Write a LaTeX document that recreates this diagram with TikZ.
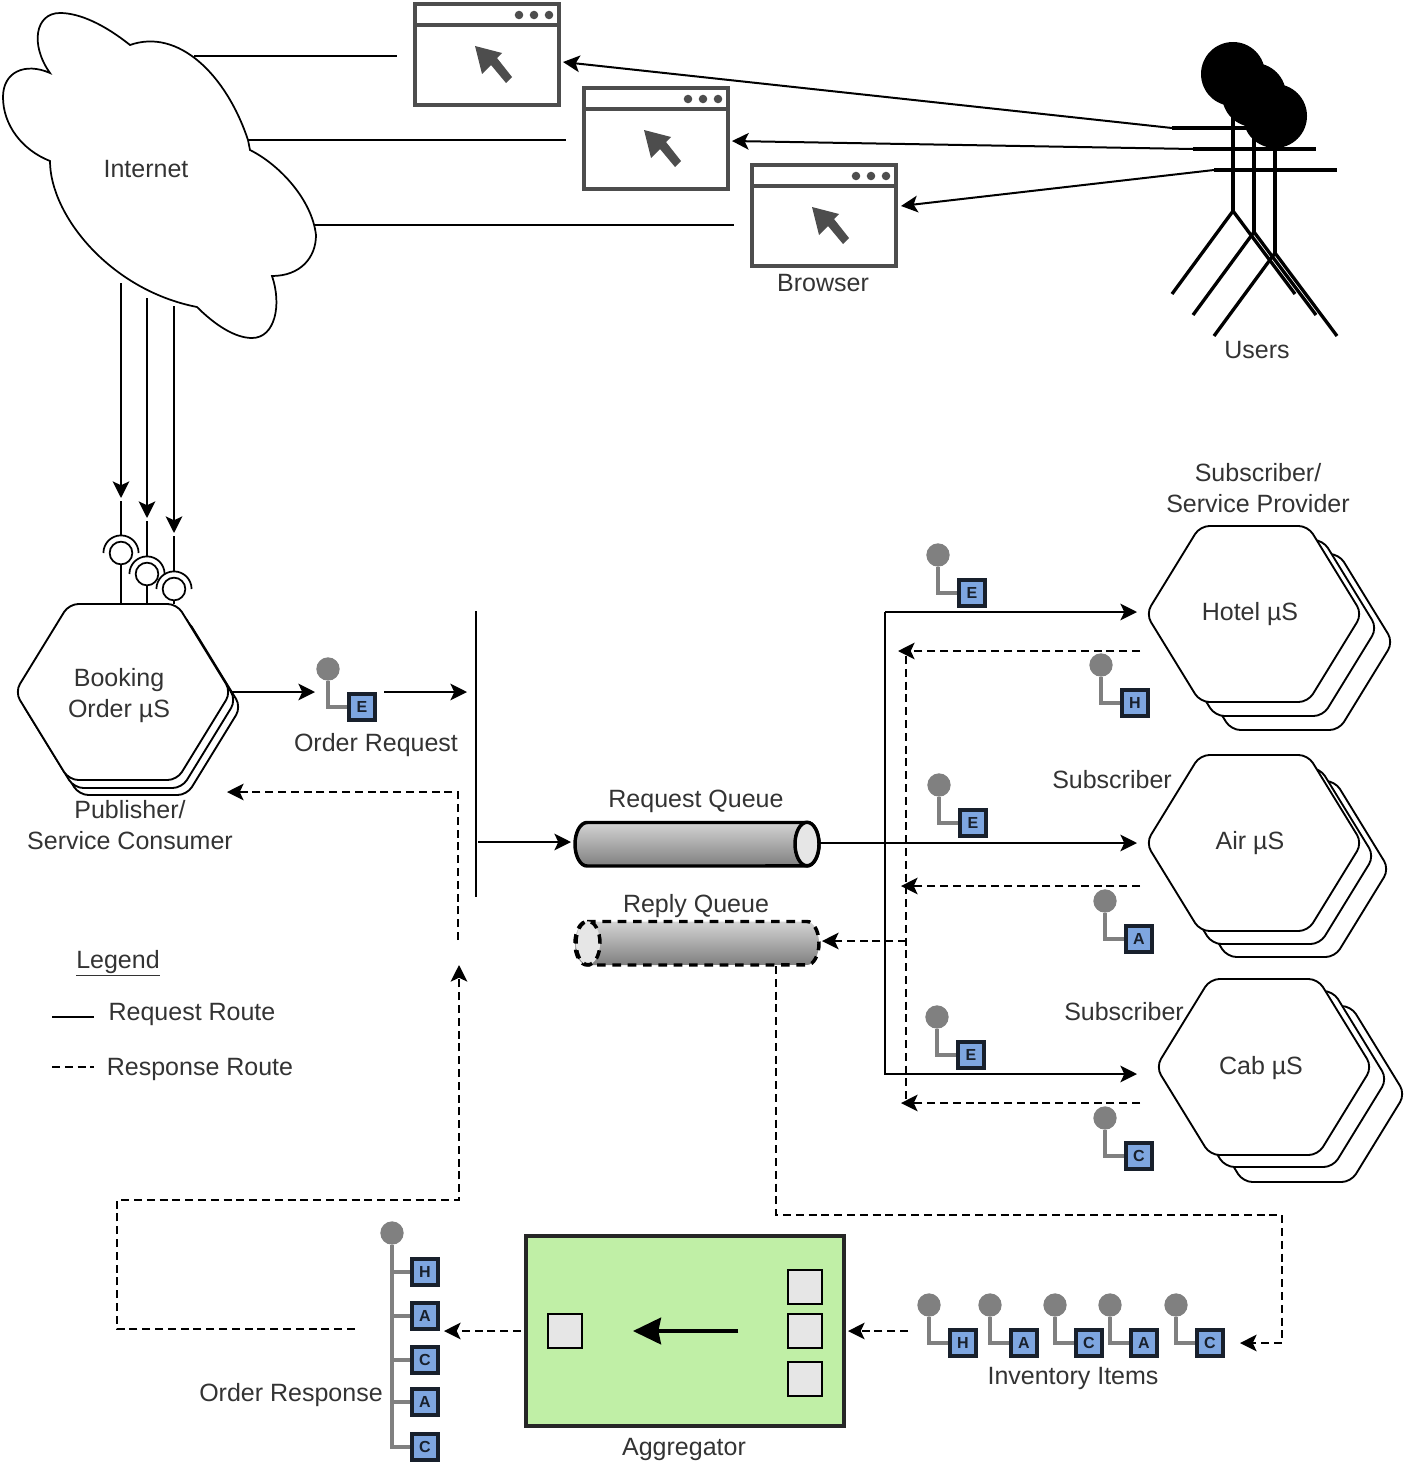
\documentclass[tikz,border=0pt]{standalone}
\usepackage{xcolor}
\usepackage{fontspec}
\setmainfont{Liberation Sans}
\usepackage{tikz}
\usetikzlibrary{shapes,arrows.meta,positioning,fit,calc}
\definecolor{txtgray}{HTML}{333333}
\definecolor{wingray}{HTML}{4D4D4D}
\definecolor{dotgray}{HTML}{808080}
\definecolor{tagblue}{HTML}{7EA6E0}
\definecolor{tagdark}{HTML}{18202C}
\definecolor{aggrgreen}{HTML}{C0EFA6}
\definecolor{boxgray}{HTML}{E6E6E6}

\begin{document}
\begin{tikzpicture}[
  x=0.75pt, y=-0.75pt,
  >={Stealth[length=12.5pt,width=12.5pt,inset=3pt]},
  font=\fontsize{18.75}{23.25}\selectfont,
  txt/.style={text=txtgray, align=center, inner sep=0pt},
  conn/.style={draw, line width=1.5pt},
  resp/.style={draw, line width=1.3pt, dash pattern=on 6pt off 3.6pt},
  hexa/.style={draw, fill=white, line width=1.4pt, rounded corners=7pt},
  hexbox/.style={rectangle, inner sep=0pt, outer sep=0pt, minimum width=160pt, minimum height=133pt},
  win/.style={rectangle, draw=wingray, line width=2.7pt, inner sep=0pt, outer sep=0pt,
              minimum width=108pt, minimum height=75.75pt},
  head/.style={circle, fill=black, inner sep=0pt, minimum size=48pt},
  limb/.style={draw, line width=2.5pt},
  sock/.style={circle, draw, fill=white, line width=1.3pt, inner sep=0pt, minimum size=17pt},
  dot/.style={circle, fill=dotgray, inner sep=0pt, minimum size=17.5pt},
  tag/.style={rectangle, draw=tagdark, fill=tagblue, line width=2.6pt, inner sep=0pt,
              minimum size=19.5pt, text=tagdark, font=\fontsize{12}{12}\selectfont\bfseries},
  stem/.style={draw=dotgray, line width=2.4pt},
  pipe/.style={rectangle, inner sep=0pt, outer sep=0pt, minimum width=184pt, minimum height=33pt},
  pipeline/.style={draw, line width=2.6pt, top color=black!17, bottom color=black!50},
  slot/.style={rectangle, draw, fill=boxgray, line width=1.4pt, inner sep=0pt, minimum size=25pt},
]
  \useasboundingbox (0,0) rectangle (1406,1463);

  % INTERNET
  \draw[line width=1.3pt] (50,73) .. controls (25,62) and (3,72) .. (3,97)
    .. controls (3,125) and (22,150) .. (50,161)
    .. controls (50,215) and (110,290) .. (197,307)
    .. controls (215,325) and (235,338) .. (252,338)
    .. controls (275,338) and (282,305) .. (272,276)
    .. controls (300,276) and (316,258) .. (316,235)
    .. controls (312,200) and (280,165) .. (250,150) -- (248,140)
    .. controls (226,74) and (178,28) .. (130,45)
    .. controls (105,25) and (80,13) .. (60,13)
    .. controls (35,13) and (30,45) .. (50,73) -- cycle;
  \node[txt] (internet) at (146,169) {Internet};
  \coordinate (cloud-a) at (194,56);
  \coordinate (cloud-b) at (248,140);
  \coordinate (cloud-c) at (315,225);

  % BROWSER
  \foreach \n/\x/\y in {a/415/4, b/584/88, c/752/165} {
    \node[win] (win-\n) at (\x+72,\y+50.5) {};
    \begin{scope}[shift={(\x,\y)}]
      \draw[wingray, line width=2.7pt] (win-\n.west|-0,21) -- (win-\n.east|-0,21);
      \foreach \d in {104,119,134} \fill[wingray] (\d,11) circle (3.2pt);
      \fill[wingray] (60,42) -- (87,49) -- (82,54) -- (97,73) -- (91,79) -- (76,61) -- (67,70) -- cycle;
    \end{scope}
  }
  \node[txt] (browser) at (823,283) {Browser};
  \coordinate (win-a-in) at (563,62);
  \coordinate (win-b-in) at (732,141);
  \coordinate (win-c-in) at (901,206);
  \coordinate (win-a-out) at (397,56);
  \coordinate (win-b-out) at (566,140);
  \coordinate (win-c-out) at (734,225);
  \draw[conn] (cloud-a) -- (win-a-out);
  \draw[conn] (cloud-b) -- (win-b-out);
  \draw[conn] (cloud-c) -- (win-c-out);

  % USERS
  \foreach \n/\x/\y in {a/1233/74, b/1254/95, c/1275/116} {
    \node[head] (user-\n) at (\x,\y) {};
    \coordinate (user-\n-hip) at (\x,\y+137);
    \coordinate (user-\n-arm) at (\x-61,\y+54);
    \draw[limb] (user-\n.center) -- (user-\n-hip);
    \draw[limb] (user-\n-arm) -- (\x+62,\y+54);
    \draw[limb] (\x-61,\y+220) -- (user-\n-hip) -- (\x+62,\y+220);
  }
  \node[txt] (users) at (1257,350) {Users};
  \draw[conn,->] (user-a-arm) -- (win-a-in);
  \draw[conn,->] (user-b-arm) -- (win-b-in);
  \draw[conn,->] (user-c-arm) -- (win-c-in);

  % MICROSERVICES
  \foreach \n/\cx/\cy/\ax/\ay/\bx/\by/\tx/\ty/\l in {
      booking/123/692/5/8/10/15/119/696/{Booking\\Order µS},
      hotel/1254/614/15/14/31/28/1250/614/{Hotel µS},
      air/1254/843/12/13/27/26/1250/843/{Air µS},
      cab/1264/1067/15/12/33/27/1261/1068/{Cab µS}} {
    \foreach \dx/\dy in {\bx/\by, \ax/\ay, 0/0}
      \draw[hexa, shift={(\cx+\dx,\cy+\dy)}] (-108,0) -- (-54,-88) -- (54,-88) -- (108,0)
        -- (54,88) -- (-54,88) -- cycle;
    \node[hexbox] (\n) at (\cx,\cy) {};
    \node[txt] (\n-t) at (\tx,\ty) {\l};
  }
  \node[txt] (pub-t) at (130,825) {Publisher/\\Service Consumer};
  \node[txt] (sub-t) at (1258,488) {Subscriber/\\Service Provider};
  \node[txt] (sub-air) at (1112,780) {Subscriber};
  \node[txt] (sub-cab) at (1124,1012) {Subscriber};

  % SOCKETS
  \foreach \n/\x/\y/\t in {a/121/553/498, b/147/574/518, c/174/589/533} {
    \node[sock] (sock-\n) at (\x,\y) {};
    \draw[line width=1.3pt] ([xshift=-13.2pt]sock-\n.center) arc (180:0:13.2pt);
    \coordinate (sock-\n-tip) at (\x,\t);
    \coordinate (sock-\n-top) at (\x,\y-18);
    \coordinate (sock-\n-in) at (\x,\t+3);
    \draw[line width=1.3pt] (sock-\n-in) -- (sock-\n-top);
    \draw[line width=1.3pt] (sock-\n) -- (\x,604);
  }
  \coordinate (cloud-d) at (121,283);
  \coordinate (cloud-e) at (147,298);
  \coordinate (cloud-f) at (174,306);
  \draw[conn,->] (cloud-d) -- (sock-a-tip);
  \draw[conn,->] (cloud-e) -- (sock-b-tip);
  \draw[conn,->] (cloud-f) -- (sock-c-tip);

  % MESSAGES
  \foreach \n/\x/\y/\t in {
      ordreq/328/669/E, hotelE/938/555/E, hotelH/1101/665/H, airE/939/785/E, airA/1105/901/A,
      cabE/937/1017/E, cabC/1105/1118/C, invA/929/1305/H, invB/990/1305/A, invC/1055/1305/C,
      invD/1110/1305/A, invE/1176/1305/C} {
    \node[dot] (\n-d) at (\x,\y) {};
    \node[tag] (\n-s) at (\x+34,\y+38) {\t};
    \draw[stem] (\n-d) |- (\n-s);
  }
  \node[txt] (ordreq-t) at (376,745) {Order Request};
  \node[txt] (inv-t) at (1073,1378) {Inventory Items};
  % order response
  \node[dot] (ordresp-dot) at (392,1233) {};
  \foreach \n/\y/\t in {a/1272/H, b/1316/A, c/1360/C, d/1402/A, e/1447/C} {
    \node[tag] (ordresp-\n) at (425,\y) {\t};
    \draw[stem] (ordresp-dot) |- (ordresp-\n);
  }
  \node[txt] (ordresp-t) at (291,1395) {Order Response};

  % QUEUES
  \node[pipe] (reqq) at (697.5,844) {};
  \draw[pipeline] (587,822.5) -- (807,822.5) arc (90:-90:9pt and 16.3pt) -- (587,866) arc (270:90:9pt and 16.3pt) -- cycle;
  \draw[line width=2.6pt, fill=boxgray] (807,844) ellipse (9pt and 16.3pt);
  \node[txt] (reqq-t) at (696,801) {Request Queue};
  \node[pipe] (repq) at (697.5,943) {};
  \draw[pipeline, dash pattern=on 6.5pt off 5pt] (587,921.5) -- (807,921.5) arc (90:-90:9pt and 16.3pt) -- (587,965) arc (270:90:9pt and 16.3pt) -- cycle;
  \draw[line width=2.6pt, fill=boxgray, dash pattern=on 6.5pt off 5pt] (588,943) ellipse (9pt and 16.3pt);
  \node[txt] (repq-t) at (696,906) {Reply Queue};

  % AGGREGATOR
  \node[rectangle, draw=black!85, fill=aggrgreen, line width=3pt, inner sep=0pt, minimum width=238pt, minimum height=142pt] (aggr) at (685,1331) {};
  \node[slot] (slot-a) at (805,1287) {};
  \node[slot] (slot-b) at (805,1331) {};
  \node[slot] (slot-c) at (805,1379) {};
  \node[slot] (slot-d) at (565,1331) {};
  \draw[line width=2.6pt, -{Stealth[length=21pt,width=20pt,inset=2pt]}] ([xshift=-50pt]slot-b.center) -- ([xshift=51pt]slot-d.center);
  \node[txt] (aggr-t) at (684,1449) {Aggregator};

  % request route
  \coordinate (bar-t) at (476,611);
  \coordinate (bar-b) at (476,897);
  \coordinate (bar-a) at (467,692);
  \coordinate (ordreq-in) at (315,692);
  \coordinate (ordreq-out) at (384,692);
  \coordinate (bar-c) at (478,842);
  \coordinate (reqq-in) at (571,842);
  \coordinate (fan-t) at (885,612);
  \coordinate (fan-b) at (885,1074);
  \coordinate (hotel-in) at (1137,612);
  \coordinate (air-in) at (1137,843);
  \coordinate (cab-in) at (1137,1074);
  \draw[conn] (bar-t) -- (bar-b);
  \draw[conn,->] (booking.east) -- (ordreq-in);
  \draw[conn,->] (ordreq-out) -- (bar-a);
  \draw[conn,->] (bar-c) -- (reqq-in);
  \draw[conn,->] (reqq.east|-air-in) -- (air-in);
  \draw[conn,->] (fan-t) -- (hotel-in);
  \draw[conn,->] (fan-t) -- (fan-b) -- (cab-in);

  % response route
  \coordinate (rsp-t) at (906,656);
  \coordinate (rsp-b) at (906,1103);
  \coordinate (hotel-out) at (1140,651);
  \coordinate (air-out) at (1140,886);
  \coordinate (cab-out) at (1140,1103);
  \coordinate (hotel-tip) at (898,651);
  \coordinate (air-tip) at (901,886);
  \coordinate (cab-tip) at (901,1103);
  \coordinate (repq-in) at (906,941);
  \coordinate (repq-tip) at (822,941);
  \coordinate (repq-out) at (776,966);
  \coordinate (inv-in) at (1282,1343);
  \coordinate (inv-tip) at (1240,1343);
  \coordinate (inv-out) at (908,1331);
  \coordinate (aggr-in) at (848,1331);
  \coordinate (aggr-out) at (521,1331);
  \coordinate (ordresp-in) at (444,1331);
  \coordinate (ordresp-out) at (355,1329);
  \coordinate (back-b) at (117,1200);
  \coordinate (back-tip) at (459,965);
  \coordinate (pub-in) at (458,940);
  \coordinate (pub-tip) at (227,792);
  \draw[resp] (rsp-t) -- (rsp-b);
  \draw[resp,->] (hotel-out) -- (hotel-tip);
  \draw[resp,->] (air-out) -- (air-tip);
  \draw[resp,->] (cab-out) -- (cab-tip);
  \draw[resp,->] (repq-in) -- (repq-tip);
  \draw[resp,->] (repq-out) |- (inv-in|-0,1215) -- (inv-in) -- (inv-tip);
  \draw[resp,->] (inv-out) -- (aggr-in);
  \draw[resp,->] (aggr-out) -- (ordresp-in);
  \draw[resp,->] (ordresp-out) -| (back-b) -| (back-tip);
  \draw[resp,->] (pub-in) |- (pub-tip);

  % LEGEND
  \node[txt] (legend) at (118,963) {\underline{Legend}};
  \node[txt] (req-t) at (192,1014) {Request Route};
  \node[txt] (rsp-l) at (200,1069) {Response Route};
  \coordinate (key-a) at (52,1017);
  \coordinate (key-b) at (94,1017);
  \coordinate (key-c) at (52,1067);
  \coordinate (key-d) at (94,1067);
  \draw[conn] (key-a) -- (key-b);
  \draw[resp, line width=1pt] (key-c) -- (key-d);
\end{tikzpicture}
\end{document}
